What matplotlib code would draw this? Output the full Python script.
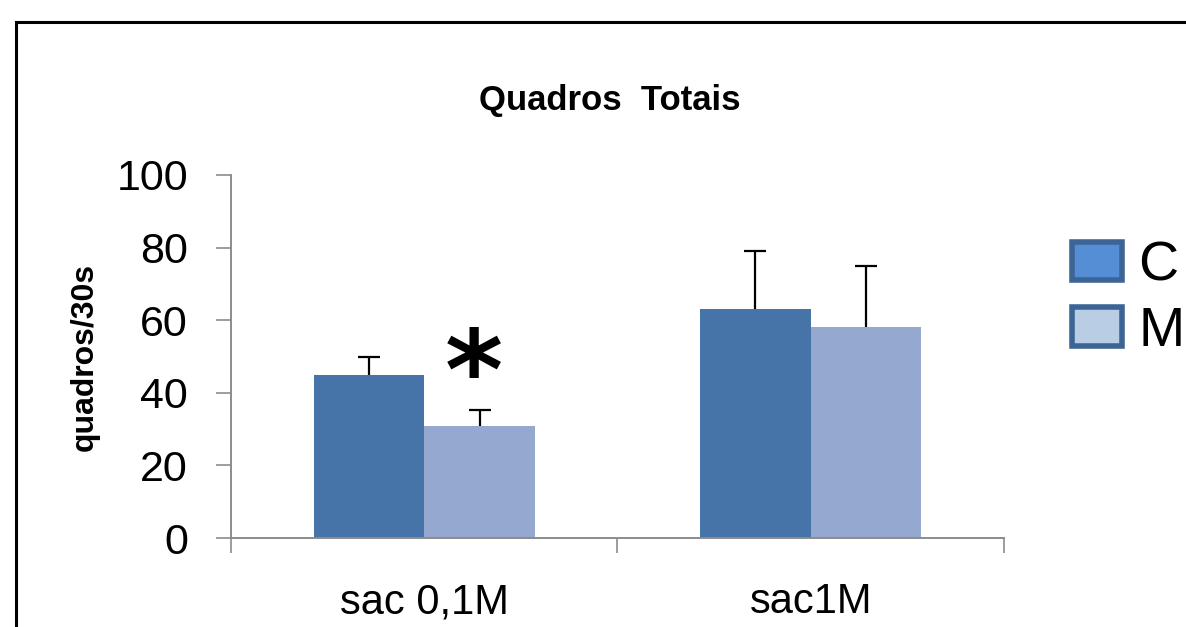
import matplotlib.pyplot as plt
from matplotlib.patches import Patch, Rectangle
import numpy as np

plt.rcParams['font.family'] = ['Liberation Sans', 'DejaVu Sans']

categories = ['sac 0,1M', 'sac1M']
groups = ['C', 'M']
means_c = [45.0, 63.2]
means_m = [30.8, 58.1]
err_c = [4.8, 15.8]
err_m = [4.5, 16.9]

bar_colors = ['#4674A8', '#95A9D0']
legend_colors = ['#558ED5', '#B9CDE5']
axis_gray = '#8C8C8C'

fig = plt.figure(figsize=(11.86, 6.27), dpi=100)
ax = fig.add_axes([0.1948, 0.1419, 0.8465 - 0.1948, 0.7209 - 0.1419])

x = np.arange(len(categories))
w = 0.286
ax.bar(x - w / 2, means_c, w, color=bar_colors[0])
ax.bar(x + w / 2, means_m, w, color=bar_colors[1])
for xs, ys, es in [(x - w / 2, means_c, err_c), (x + w / 2, means_m, err_m)]:
    eb = ax.errorbar(xs, ys, yerr=[np.zeros(2), es], fmt='none', ecolor='black',
                     elinewidth=1.6, capsize=8, capthick=1.6)
    # keep only the upper cap
    eb[1][0].set_visible(False)

# significance mark over the M bar of the first group
ax.text(x[0] + w / 2 - 0.015, means_m[0] + err_m[0] - 6, '*', ha='center',
        va='bottom', fontsize=80, fontweight='bold', family='DejaVu Sans')

ax.set_xlim(-0.5, 1.5)
ax.set_ylim(0, 100)
ax.set_yticks(range(0, 101, 20))
ax.tick_params(axis='y', labelsize=31, length=11, width=1.2, color=axis_gray,
               direction='out', pad=20)
ax.set_xticks([-0.5, 0.5, 1.5])
ax.set_xticklabels([])
ax.set_xticks(x, minor=True)
ax.set_xticklabels(categories, minor=True)
ax.tick_params(axis='x', which='major', length=11, width=1.2, color=axis_gray)
ax.tick_params(axis='x', which='minor', length=0, labelsize=30, pad=32)

for side in ['top', 'right']:
    ax.spines[side].set_visible(False)
for side in ['left', 'bottom']:
    ax.spines[side].set_color(axis_gray)
    ax.spines[side].set_linewidth(1.4)

ax.set_ylabel('quadros/30s', fontsize=23, fontweight='bold', labelpad=12)
fig.text(0.514, 0.84, 'Quadros  Totais', ha='center', va='center',
         fontsize=25, fontweight='bold')

handles = [Patch(facecolor=legend_colors[i], edgecolor='#3C6494', linewidth=4,
                 label=groups[i]) for i in range(2)]
fig.legend(handles=handles, loc='upper left', bbox_to_anchor=(0.885, 0.652),
           fontsize=40, frameon=False, handlelength=0.9, handleheight=0.7,
           handletextpad=0.3, labelspacing=0.25, borderaxespad=0)

# outer frame running off the right and bottom edges
fig.add_artist(Rectangle((16 / 1186, -0.2), 1.2, 1 - 22 / 627 + 0.2,
                         transform=fig.transFigure, fill=False,
                         edgecolor='black', linewidth=2.2))

fig.savefig('out.png', dpi=100)
